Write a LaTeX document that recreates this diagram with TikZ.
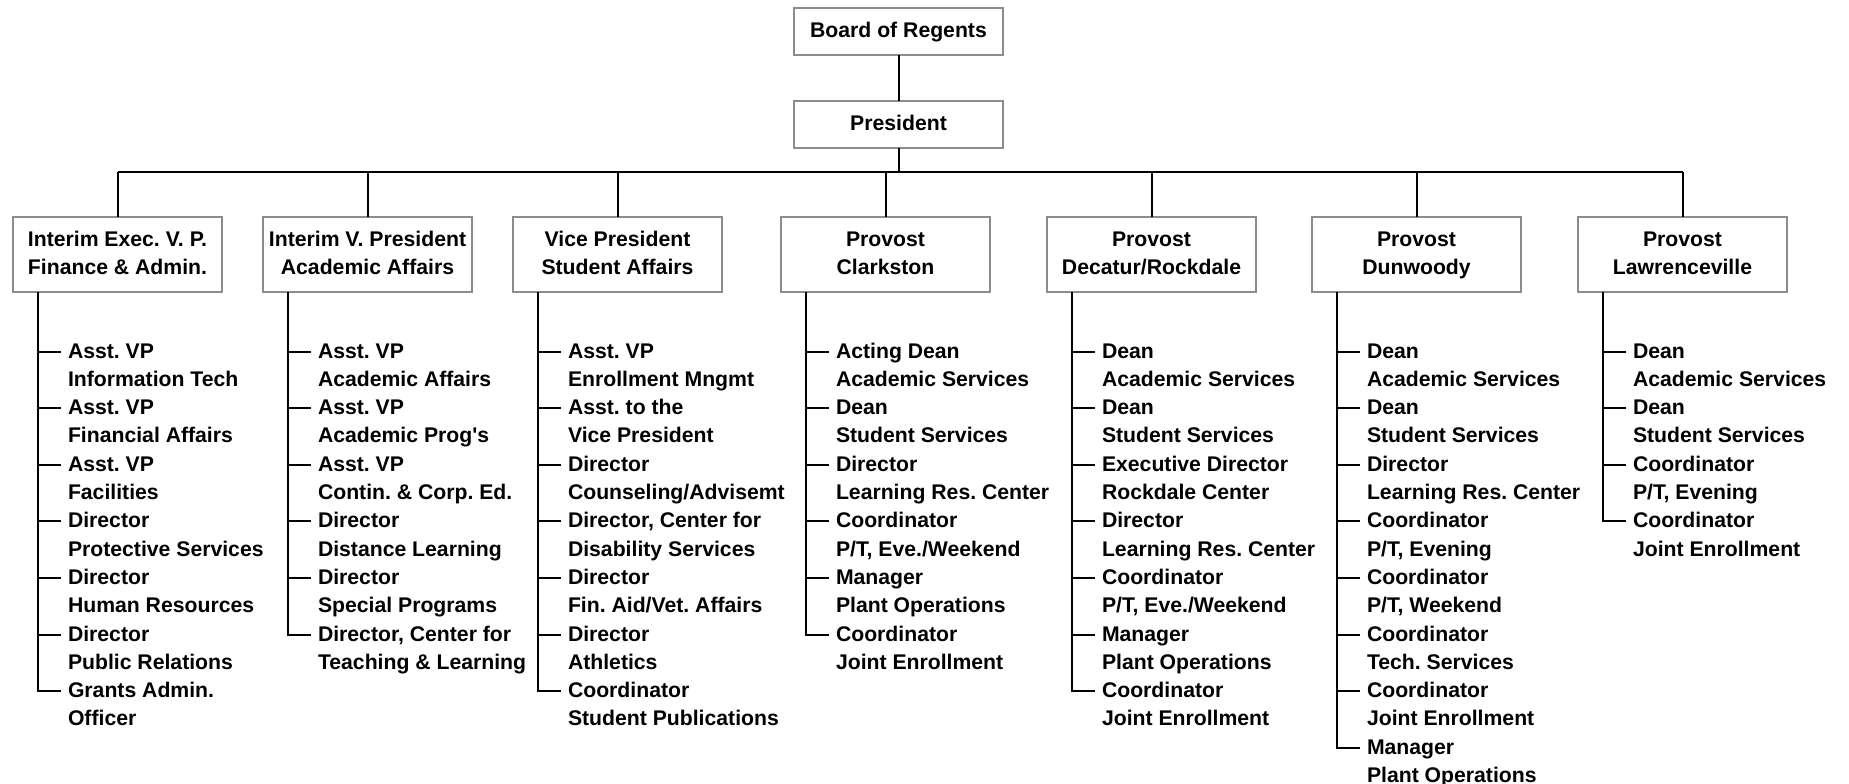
\documentclass[tikz,border=0pt]{standalone}
\usepackage{fontspec}
\setmainfont{Liberation Sans}
\usetikzlibrary{positioning}

\newcommand{\duty}[2]{\strut #1\\#2\strut}

\begin{document}
\frenchspacing
\begin{tikzpicture}[x=1pt,y=1pt,
		unitbox/.style={draw=black!45,line width=2pt,outer sep=0pt,minimum width=209pt,inner xsep=2pt,inner ysep=0pt,align=center,font=\fontsize{21.2}{28}\selectfont\bfseries},
		topbox/.style={unitbox,minimum height=47pt},
		headbox/.style={unitbox,minimum height=75pt},
		item/.style={align=left,inner xsep=7pt,inner ysep=0pt,outer sep=0pt,node distance=0pt,font=\fontsize{21.2}{28.3}\selectfont\bfseries},
		link/.style={line width=2pt}]
			\useasboundingbox (0,0) rectangle (1849,-784);

			\node[topbox] at (898.5,-31.5)										(bor)	{\strut Board of Regents};
			\node[topbox,node distance=46pt,below=of bor]						(pres)	{\strut President};

			\node[headbox,node distance=69pt,below=of pres,xshift=-13pt]		(clk)	{\duty{Provost}{Clarkston}};
			\node[headbox,node distance=59pt,left=of clk]						(stu)	{\duty{Vice President}{Student Affairs}};
			\node[headbox,node distance=41pt,left=of stu]						(aca)	{\duty{Interim V. President}{Academic Affairs}};
			\node[headbox,node distance=41pt,left=of aca]						(fin)	{\duty{Interim Exec. V. P.}{Finance \& Admin.}};
			\node[headbox,node distance=57pt,right=of clk]						(dec)	{\duty{Provost}{Decatur/Rockdale}};
			\node[headbox,node distance=56pt,right=of dec]						(dun)	{\duty{Provost}{Dunwoody}};
			\node[headbox,node distance=57pt,right=of dun]						(law)	{\duty{Provost}{Lawrenceville}};

			\draw[link] (bor) -- (pres);
			\draw[link] (pres.south) -- ++(0,-24) coordinate (bus);
			\draw[link] (bus -| fin) -- (bus -| law);
			\foreach \v in {fin,aca,stu,clk,dec,dun,law}
				\draw[link] (bus -| \v) -- (\v.north);

			% finance & admin
			\node[item,below right=46.2pt and 48pt of fin.south west]		(f0)	{\duty{Asst. VP}{Information Tech}};
			\node[item,below right=of f0.south west]						(f1)	{\duty{Asst. VP}{Financial Affairs}};
			\node[item,below right=of f1.south west]						(f2)	{\duty{Asst. VP}{Facilities}};
			\node[item,below right=of f2.south west]						(f3)	{\duty{Director}{Protective Services}};
			\node[item,below right=of f3.south west]						(f4)	{\duty{Director}{Human Resources}};
			\node[item,below right=of f4.south west]						(f5)	{\duty{Director}{Public Relations}};
			\node[item,below right=of f5.south west]						(f6)	{\duty{Grants Admin.}{Officer}};

			% academic affairs
			\node[item,below right=46.2pt and 48pt of aca.south west]		(a0)	{\duty{Asst. VP}{Academic Affairs}};
			\node[item,below right=of a0.south west]						(a1)	{\duty{Asst. VP}{Academic Prog\textquotesingle s}};
			\node[item,below right=of a1.south west]						(a2)	{\duty{Asst. VP}{Contin. \& Corp. Ed.}};
			\node[item,below right=of a2.south west]						(a3)	{\duty{Director}{Distance Learning}};
			\node[item,below right=of a3.south west]						(a4)	{\duty{Director}{Special Programs}};
			\node[item,below right=of a4.south west]						(a5)	{\duty{Director, Center for}{Teaching \& Learning}};

			% student affairs
			\node[item,below right=46.2pt and 48pt of stu.south west]		(s0)	{\duty{Asst. VP}{Enrollment Mngmt}};
			\node[item,below right=of s0.south west]						(s1)	{\duty{Asst. to the}{Vice President}};
			\node[item,below right=of s1.south west]						(s2)	{\duty{Director}{Counseling/Advisemt}};
			\node[item,below right=of s2.south west]						(s3)	{\duty{Director, Center for}{Disability Services}};
			\node[item,below right=of s3.south west]						(s4)	{\duty{Director}{Fin. Aid/Vet. Affairs}};
			\node[item,below right=of s4.south west]						(s5)	{\duty{Director}{Athletics}};
			\node[item,below right=of s5.south west]						(s6)	{\duty{Coordinator}{Student Publications}};

			% clarkston
			\node[item,below right=46.2pt and 48pt of clk.south west]		(c0)	{\duty{Acting Dean}{Academic Services}};
			\node[item,below right=of c0.south west]						(c1)	{\duty{Dean}{Student Services}};
			\node[item,below right=of c1.south west]						(c2)	{\duty{Director}{Learning Res. Center}};
			\node[item,below right=of c2.south west]						(c3)	{\duty{Coordinator}{P/T, Eve./Weekend}};
			\node[item,below right=of c3.south west]						(c4)	{\duty{Manager}{Plant Operations}};
			\node[item,below right=of c4.south west]						(c5)	{\duty{Coordinator}{Joint Enrollment}};

			% decatur/rockdale
			\node[item,below right=46.2pt and 48pt of dec.south west]		(d0)	{\duty{Dean}{Academic Services}};
			\node[item,below right=of d0.south west]						(d1)	{\duty{Dean}{Student Services}};
			\node[item,below right=of d1.south west]						(d2)	{\duty{Executive Director}{Rockdale Center}};
			\node[item,below right=of d2.south west]						(d3)	{\duty{Director}{Learning Res. Center}};
			\node[item,below right=of d3.south west]						(d4)	{\duty{Coordinator}{P/T, Eve./Weekend}};
			\node[item,below right=of d4.south west]						(d5)	{\duty{Manager}{Plant Operations}};
			\node[item,below right=of d5.south west]						(d6)	{\duty{Coordinator}{Joint Enrollment}};

			% dunwoody
			\node[item,below right=46.2pt and 48pt of dun.south west]		(w0)	{\duty{Dean}{Academic Services}};
			\node[item,below right=of w0.south west]						(w1)	{\duty{Dean}{Student Services}};
			\node[item,below right=of w1.south west]						(w2)	{\duty{Director}{Learning Res. Center}};
			\node[item,below right=of w2.south west]						(w3)	{\duty{Coordinator}{P/T, Evening}};
			\node[item,below right=of w3.south west]						(w4)	{\duty{Coordinator}{P/T, Weekend}};
			\node[item,below right=of w4.south west]						(w5)	{\duty{Coordinator}{Tech. Services}};
			\node[item,below right=of w5.south west]						(w6)	{\duty{Coordinator}{Joint Enrollment}};
			\node[item,below right=of w6.south west]						(w7)	{\duty{Manager}{Plant Operations}};

			% lawrenceville
			\node[item,below right=46.2pt and 48pt of law.south west]		(l0)	{\duty{Dean}{Academic Services}};
			\node[item,below right=of l0.south west]						(l1)	{\duty{Dean}{Student Services}};
			\node[item,below right=of l1.south west]						(l2)	{\duty{Coordinator}{P/T, Evening}};
			\node[item,below right=of l2.south west]						(l3)	{\duty{Coordinator}{Joint Enrollment}};

			% ticks and spines
			\foreach \n in {f0,f1,f2,f3,f4,f5,f6}
				\draw[link] ([yshift=-13.3pt]\n.north west) -| ([xshift=25pt]fin.south west);
			\foreach \n in {a0,a1,a2,a3,a4,a5}
				\draw[link] ([yshift=-13.3pt]\n.north west) -| ([xshift=25pt]aca.south west);
			\foreach \n in {s0,s1,s2,s3,s4,s5,s6}
				\draw[link] ([yshift=-13.3pt]\n.north west) -| ([xshift=25pt]stu.south west);
			\foreach \n in {c0,c1,c2,c3,c4,c5}
				\draw[link] ([yshift=-13.3pt]\n.north west) -| ([xshift=25pt]clk.south west);
			\foreach \n in {d0,d1,d2,d3,d4,d5,d6}
				\draw[link] ([yshift=-13.3pt]\n.north west) -| ([xshift=25pt]dec.south west);
			\foreach \n in {w0,w1,w2,w3,w4,w5,w6,w7}
				\draw[link] ([yshift=-13.3pt]\n.north west) -| ([xshift=25pt]dun.south west);
			\foreach \n in {l0,l1,l2,l3}
				\draw[link] ([yshift=-13.3pt]\n.north west) -| ([xshift=25pt]law.south west);
		\end{tikzpicture}
\end{document}
